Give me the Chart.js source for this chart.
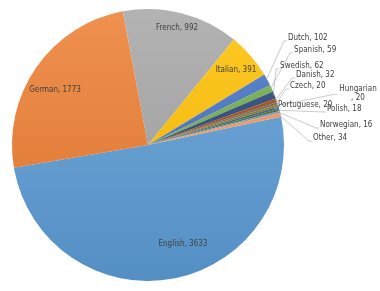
<!DOCTYPE html>
<html>
<head>
<meta charset="utf-8">
<script src="https://cdn.jsdelivr.net/npm/chart.js@4.4.0/dist/chart.umd.min.js"></script>
<style>
  html, body { margin: 0; padding: 0; background: #fff; }
  #wrap { width: 380px; height: 291px; }
</style>
</head>
<body>
<div id="wrap"><canvas id="langPie"></canvas></div>
<script>
// data
const languages = ["English", "German", "French", "Italian", "Dutch", "Spanish", "Swedish",
                   "Danish", "Czech", "Hungarian", "Portuguese", "Polish", "Norwegian", "Other"];
const counts = [3633, 1773, 992, 391, 102, 59, 62, 32, 20, 20, 20, 18, 16, 34];

// office-style palette
const colors = ['#5B9BD5', '#ED7D31', '#A5A5A5', '#FFC000', '#4472C4', '#70AD47', '#264478',
                '#9E480E', '#636363', '#997300', '#255E91', '#43682B', '#698ED0', '#F1975A'];

// label anchors, in units of the pie radius from the centre
// inside: centred text; outside: left-aligned text with a leader line
const labelSpots = [
    { x: 0.257, y: 0.728, inside: true },
    { x: -0.684, y: -0.404, inside: true },
    { x: 0.213, y: -0.860, inside: true },
    { x: 0.647, y: -0.551, inside: true },
    { x: 1.029, y: -0.787 },
    { x: 1.074, y: -0.699 },
    { x: 0.971, y: -0.581 },
    { x: 1.088, y: -0.515 },
    { x: 1.044, y: -0.434 },
    { x: 1.544, y: -0.380, wrap: true },
    { x: 0.956, y: -0.294 },
    { x: 1.316, y: -0.265 },
    { x: 1.265, y: -0.147 },
    { x: 1.213, y: -0.051 }
];

const labelFont = '8px "Liberation Sans Narrow", "DejaVu Sans Condensed", "Liberation Sans", sans-serif';

function shade(hex, amt) {
    let r = parseInt(hex.slice(1, 3), 16), g = parseInt(hex.slice(3, 5), 16), b = parseInt(hex.slice(5, 7), 16);
    const f = function (c) {
        return Math.round(amt >= 0 ? c + (255 - c) * amt : c * (1 + amt));
    };
    return 'rgb(' + f(r) + ',' + f(g) + ',' + f(b) + ')';
}

const pieLabels = {
    id: 'pieLabels',
    afterDatasetsDraw(chart) {
        const c = chart.ctx;
        const arcs = chart.getDatasetMeta(0).data;
        c.save();
        c.font = labelFont;
        c.fillStyle = '#404040';
        c.textBaseline = 'middle';
        arcs.forEach(function (arc, i) {
            const spot = labelSpots[i];
            const r = arc.outerRadius;
            const px = arc.x + spot.x * r;
            const py = arc.y + spot.y * r;
            const text = languages[i] + ', ' + counts[i];
            if (spot.inside) {
                c.textAlign = 'center';
                c.fillText(text, px, py);
                return;
            }
            const mid = (arc.startAngle + arc.endAngle) / 2;
            const ex = arc.x + Math.cos(mid) * r * 0.99;
            const ey = arc.y + Math.sin(mid) * r * 0.99;
            let lx, ly;
            if (spot.wrap) {
                c.textAlign = 'center';
                c.fillText(languages[i], px, py - 4.5);
                c.fillText(', ' + counts[i], px, py + 4.5);
                lx = px - c.measureText(languages[i]).width / 2 - 2;
                ly = py + 1;
            } else {
                c.textAlign = 'left';
                c.fillText(text, px, py);
                lx = px - 1;
                ly = py + 3;
            }
            c.beginPath();
            c.strokeStyle = '#A6A6A6';
            c.lineWidth = 0.6;
            c.moveTo(ex, ey);
            c.lineTo(lx - 3, ly);
            c.lineTo(lx, ly);
            c.stroke();
        });
        c.restore();
    }
};

new Chart(document.getElementById('langPie'), {
    type: 'pie',
    data: {
        labels: languages,
        datasets: [{
            data: counts,
            backgroundColor: function (context) {
                const chart = context.chart;
                const area = chart.chartArea;
                const base = colors[context.dataIndex];
                if (!area) return base;
                const g = chart.ctx.createLinearGradient(0, area.top, 0, area.bottom);
                g.addColorStop(0, shade(base, 0.15));
                g.addColorStop(1, shade(base, -0.08));
                return g;
            },
            borderWidth: 0
        }]
    },
    options: {
        responsive: true,
        maintainAspectRatio: false,
        animation: false,
        rotation: 78,
        layout: { padding: { left: 12, top: 9, right: 96, bottom: 10 } },
        plugins: {
            legend: { display: false },
            tooltip: { enabled: false }
        }
    },
    plugins: [pieLabels]
});
</script>
</body>
</html>
